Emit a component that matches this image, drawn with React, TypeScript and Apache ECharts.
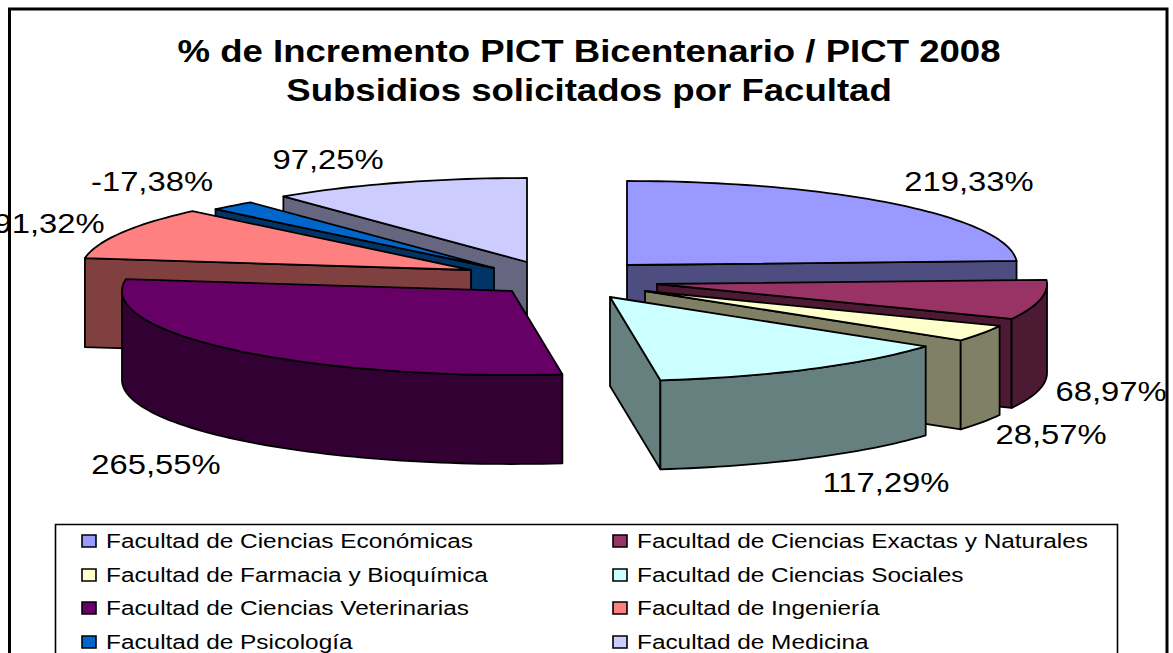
import React, { useEffect, useRef } from "react";
import * as echarts from "echarts";

const titleLines = ["% de Incremento PICT Bicentenario / PICT 2008", "Subsidios solicitados por Facultad"];
const categories = [
  "Facultad de Ciencias Económicas",
  "Facultad de Ciencias Exactas y Naturales",
  "Facultad de Farmacia y Bioquímica",
  "Facultad de Ciencias Sociales",
  "Facultad de Ciencias Veterinarias",
  "Facultad de Ingeniería",
  "Facultad de Psicología",
  "Facultad de Medicina",
];
const increments = [219.33, 68.97, 28.57, 117.29, 265.55, 91.32, -17.38, 97.25];

const topColors = ["#9999ff", "#993366", "#ffffcc", "#ccffff", "#660066", "#ff8080", "#0066cc", "#ccccff"];
const sideColors = ["#4d4d80", "#4d1a33", "#808066", "#668080", "#330033", "#804040", "#003366", "#666680"];

// Pie geometry
const CX = 570, CY = 278, RX = 390, RY = 84, DEPTH = 89;
const explode = [[57, -13], [87, 6], [75, 13], [40, 19], [-58, 13], [-99, -8], [-76, -10], [-43, -16]];
const paintOrder = [0, 1, 2, 3, 7, 6, 5, 4];
const labelAnchors = [[969, 181], [1111, 391], [1051, 434], [886, 482], [156, 464], [49, 223], [152, 181], [328, 159]];

const FONT = '"Liberation Sans", Arial, sans-serif';
const total = increments.reduce((s, v) => s + Math.abs(v), 0);
const spans: number[][] = [];
increments.reduce((start, v) => {
  const end = start + (Math.abs(v) / total) * 360;
  spans.push([start, end]);
  return end;
}, 0);

const rad = (d: number) => (d * Math.PI) / 180;
const rimPoint = (tip: number[], a: number, dy = 0) => [
  tip[0] + RX * Math.sin(rad(a)),
  tip[1] - RY * Math.cos(rad(a)) + dy,
];
const arc = (tip: number[], a: number, b: number, dy = 0) => {
  const n = Math.max(2, Math.ceil((b - a) / 1.5));
  const pts: number[][] = [];
  for (let k = 0; k <= n; k++) pts.push(rimPoint(tip, a + ((b - a) * k) / n, dy));
  return pts;
};
const lineStyle = { stroke: "#000", lineWidth: 1.8, lineJoin: "round" };

function renderSlice(params: any, api: any) {
  const i = params.seriesIndex;
  const [a, b] = spans[i];
  const value = api.value(0);
  const tip = [CX + explode[i][0], CY + explode[i][1]];
  const side = { ...lineStyle, fill: sideColors[i] };
  const children: any[] = [];
  const wall = (ang: number) => {
    const p = rimPoint(tip, ang);
    children.push({
      type: "polygon",
      shape: { points: [tip, p, [p[0], p[1] + DEPTH], [tip[0], tip[1] + DEPTH]] },
      style: side,
    });
  };
  if (Math.sin(rad(a)) < 0) wall(a);
  if (Math.sin(rad(b)) > 0) wall(b);
  const ra = Math.max(a, 90), rb = Math.min(b, 270);
  if (rb > ra) {
    children.push({
      type: "polygon",
      shape: { points: [...arc(tip, ra, rb), ...arc(tip, ra, rb, DEPTH).reverse()] },
      style: side,
    });
  }
  children.push({
    type: "polygon",
    shape: { points: [tip, ...arc(tip, a, b)] },
    style: { ...lineStyle, fill: topColors[i] },
  });
  children.push({
    type: "text",
    x: labelAnchors[i][0],
    y: labelAnchors[i][1],
    scaleX: 1.17,
    style: {
      text: value.toFixed(2).replace(".", ",") + "%",
      fontFamily: FONT,
      fontSize: 28,
      fill: "#000",
      align: "center",
      verticalAlign: "middle",
    },
  });
  return { type: "group", children };
}

const legendRows = [541, 575, 608, 642];
const legendCols = [82, 613];

export default function App() {
  const ref = useRef<HTMLDivElement>(null);
  useEffect(() => {
    document.body.style.margin = "0";
    const chart = echarts.init(ref.current!, undefined, { renderer: "svg" });
    const legendItems: any[] = categories.flatMap((name, i) => {
      const x = legendCols[i % 2];
      const y = legendRows[Math.floor(i / 2)];
      return [
        {
          type: "rect",
          shape: { x, y: y - 6, width: 14, height: 12 },
          style: { fill: topColors[i], stroke: "#000", lineWidth: 1.6 },
        },
        {
          type: "text",
          x: x + 24,
          y,
          scaleX: 1.25,
          style: { text: name, fontFamily: FONT, fontSize: 19.5, fill: "#000", align: "left", verticalAlign: "middle" },
        },
      ];
    });
    chart.setOption({
      animation: false,
      backgroundColor: "#ffffff",
      tooltip: { show: false },
      graphic: [
        {
          type: "rect",
          shape: { x: 9.5, y: 9, width: 1157.5, height: 680 },
          style: { fill: "#fff", stroke: "#000", lineWidth: 3 },
          z: -2,
        },
        {
          type: "rect",
          shape: { x: 55.5, y: 524.5, width: 1062, height: 160 },
          style: { fill: "#fff", stroke: "#000", lineWidth: 1.6 },
          z: -1,
        },
        ...titleLines.map((t, i) => ({
          type: "text",
          x: 589,
          y: 51 + i * 39,
          scaleX: 1.18,
          z: 1,
          style: { text: t, fontFamily: FONT, fontWeight: "bold", fontSize: 31, fill: "#000", align: "center", verticalAlign: "middle" },
        })),
        ...legendItems.map((e) => ({ ...e, z: 1 })),
      ],
      series: categories.map((name, i) => ({
        type: "custom",
        name,
        coordinateSystem: "none",
        z: 2 + paintOrder.indexOf(i),
        silent: true,
        itemStyle: { color: topColors[i] },
        data: [[increments[i]]],
        renderItem: renderSlice,
      })),
    });
    return () => chart.dispose();
  }, []);
  return <div ref={ref} style={{ width: 1173, height: 653 }} />;
}
